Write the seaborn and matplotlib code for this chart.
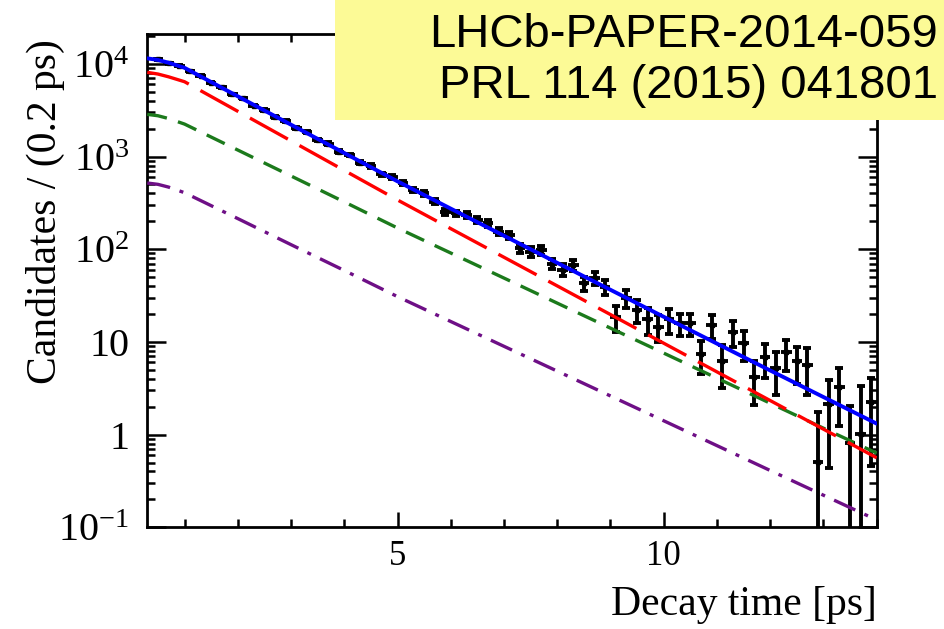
import matplotlib
matplotlib.use("Agg")
import matplotlib.pyplot as plt
import numpy as np
import pandas as pd
import seaborn as sns
from matplotlib.ticker import FixedLocator, FixedFormatter, MultipleLocator, LogLocator, NullFormatter
from matplotlib.patches import Rectangle

# Binned decay-time distribution (0.2 ps bins, weighted candidates)
time_bins = [0.5, 0.7, 0.9, 1.1, 1.3, 1.5, 1.7, 1.9, 2.1, 2.3, 2.5, 2.7, 2.9,
             3.1, 3.3, 3.5, 3.7, 3.9, 4.1, 4.3, 4.5, 4.7, 4.9, 5.1, 5.3, 5.5,
             5.7, 5.9, 6.1, 6.3, 6.5, 6.7, 6.9, 7.1, 7.3, 7.5, 7.7, 7.9, 8.1,
             8.3, 8.5, 8.7, 8.9, 9.1, 9.3, 9.5, 9.7, 9.9, 10.1, 10.3, 10.5,
             10.7, 10.9, 11.1, 11.3, 11.5, 11.7, 11.9, 12.1, 12.3, 12.5, 12.7,
             12.9, 13.1, 13.3, 13.5, 13.7, 13.9]
candidates = [11250, 10150, 9550, 8300, 7450, 6250, 5600, 4700, 4230, 3550,
              3180, 2650, 2420, 2010, 1830, 1520, 1380, 1130, 1040, 860, 790,
              640, 600, 514, 435, 401, 325, 254, 244, 232, 206, 190, 155, 142,
              102, 94, 98, 70, 60, 67.6, 42.9, 48.5, 39.4, 18.7, 29.5, 22.1,
              17.5, 14.6, 17.5, 15.9, 15.9, 7.4, 15.2, 6.2, 12.9, 9.7, 4.2,
              6.8, 5.2, 7.7, 6.2, 5.6, 0.51, 2.14, 3.24, 0.81, 1.01, 2.26]
candidate_err = [115, 110, 107, 100, 95, 87, 82, 76, 72, 66, 62, 57, 54, 49,
                 47, 43, 41, 37, 35, 32, 31, 28, 27, 25, 23, 22, 20, 18, 17,
                 17, 16, 15, 14, 13, 11, 11, 11, 9.2, 8.5, 9.0, 7.2, 7.7, 7.0,
                 5.8, 6.5, 6.0, 5.5, 4.7, 5.3, 4.2, 4.2, 2.9, 4.5, 3.0, 4.0,
                 3.5, 2.1, 2.7, 2.5, 2.9, 2.7, 2.9, 1.26, 1.7, 2.0, 1.2, 2.3,
                 1.8]
bin_half_width = 0.1

# Fit projections sampled along the decay time
fit_time = [0.3, 0.5, 0.7, 1.0, 2.0, 3.0, 4.0, 5.0, 6.0, 8.0, 10.0, 12.0, 14.0]
fit_total = [11460, 11017, 10282, 9058, 4465, 2205, 1091, 540, 274, 71.3,
             18.66, 4.92, 1.313]
fit_comp_a = [8091, 7762, 7244, 6412, 3076, 1476, 708, 340, 166.7, 40.2,
              9.68, 2.33, 0.562]
fit_comp_b = [2851, 2754, 2570, 2239, 1175, 617, 324, 169.4, 91, 26.2, 7.57,
              2.18, 0.631]
fit_comp_c = [518, 501, 468, 407, 214, 112, 59, 30.8, 16.6, 4.84, 1.41, 0.41,
              0.12]

y_tick_values = [0.1, 1, 10, 100, 1000, 10000]
y_tick_labels = ["$10^{-1}$", "1", "10", "$10^{2}$", "$10^{3}$", "$10^{4}$"]
x_tick_values = [5, 10]
x_tick_labels = ["5", "10"]

sns.set_style("white")
plt.rcParams["font.family"] = ["Liberation Serif", "DejaVu Serif"]
plt.rcParams["mathtext.fontset"] = "custom"
plt.rcParams["mathtext.rm"] = "Liberation Serif"
plt.rcParams["mathtext.it"] = "Liberation Serif:italic"
plt.rcParams["mathtext.default"] = "rm"
for key in ["text.color", "axes.labelcolor", "xtick.color", "ytick.color",
            "axes.edgecolor"]:
    plt.rcParams[key] = "black"

fig = plt.figure(figsize=(9.44, 6.29), dpi=100)
ax = fig.add_axes([0.156, 0.1617, 0.7727, 0.7843])

data = pd.DataFrame({"t": time_bins, "n": candidates, "err": candidate_err})
fits = pd.DataFrame({"t": fit_time, "total": fit_total, "a": fit_comp_a,
                     "b": fit_comp_b, "c": fit_comp_c})

# data points: vertical error bars with caps, horizontal bars span the bin
ax.errorbar(data["t"], data["n"], yerr=data["err"], fmt="s", color="black",
            markersize=3.2, ecolor="black", elinewidth=2.8, capsize=3.2,
            capthick=2.8, zorder=3)
ax.errorbar(data["t"], data["n"], xerr=bin_half_width, fmt="none",
            ecolor="black", elinewidth=2.8, capsize=0, zorder=3)

# fit components
sns.lineplot(data=fits, x="t", y="c", ax=ax, color="#6e0f86", linewidth=2.4,
             zorder=4)
ax.lines[-1].set_dashes([7, 3, 1.2, 3])
sns.lineplot(data=fits, x="t", y="b", ax=ax, color="#1c7a1c", linewidth=2.4,
             zorder=4)
ax.lines[-1].set_dashes([6, 3.5])
sns.lineplot(data=fits, x="t", y="a", ax=ax, color="#ff0000", linewidth=2.4,
             zorder=4)
ax.lines[-1].set_dashes([13, 4])
sns.lineplot(data=fits, x="t", y="total", ax=ax, color="#0000ff",
             linewidth=2.8, zorder=5)

ax.set_yscale("log")
ax.set_xlim(0.3, 14.0)
ax.set_ylim(0.1, 2.1e4)

ax.xaxis.set_major_locator(FixedLocator(x_tick_values))
ax.xaxis.set_major_formatter(FixedFormatter(x_tick_labels))
ax.xaxis.set_minor_locator(MultipleLocator(1))
ax.yaxis.set_major_locator(FixedLocator(y_tick_values))
ax.yaxis.set_major_formatter(FixedFormatter(y_tick_labels))
ax.yaxis.set_minor_locator(LogLocator(base=10, subs=np.arange(2, 10), numticks=30))
ax.yaxis.set_minor_formatter(NullFormatter())

for side in ax.spines.values():
    side.set_linewidth(2.0)
    side.set_color("black")

ax.tick_params(which="both", direction="in", top=True, right=True,
               bottom=True, left=True, width=1.8, color="black")
ax.tick_params(axis="x", which="major", length=11, labelsize=25, pad=9)
ax.tick_params(axis="x", which="minor", length=5.5)
ax.tick_params(axis="y", which="major", length=14, labelsize=29, pad=13)
ax.tick_params(axis="y", which="minor", length=6)

ax.set_xlabel("Decay time [ps]", fontsize=30)
ax.xaxis.label.set_ha("right")
ax.xaxis.label.set_va("center")
ax.xaxis.set_label_coords(1.0, -0.157)
ax.set_ylabel("Candidates / (0.2 ps)", fontsize=30)
ax.yaxis.label.set_va("center")
ax.yaxis.set_label_coords(-0.140, 0.641)

# publication reference box
fig.patches.append(Rectangle((0.355, 0.809), 0.7, 0.25, transform=fig.transFigure,
                             facecolor="#fcfa96", edgecolor="none", zorder=10))
fig.text(0.9936, 0.944, "LHCb-PAPER-2014-059", ha="right", va="center",
         fontsize=34, family=["Liberation Sans", "DejaVu Sans"], zorder=11)
fig.text(0.9936, 0.863, "PRL 114 (2015) 041801", ha="right", va="center",
         fontsize=34, family=["Liberation Sans", "DejaVu Sans"], zorder=11)

fig.savefig("out.png", dpi=100)
